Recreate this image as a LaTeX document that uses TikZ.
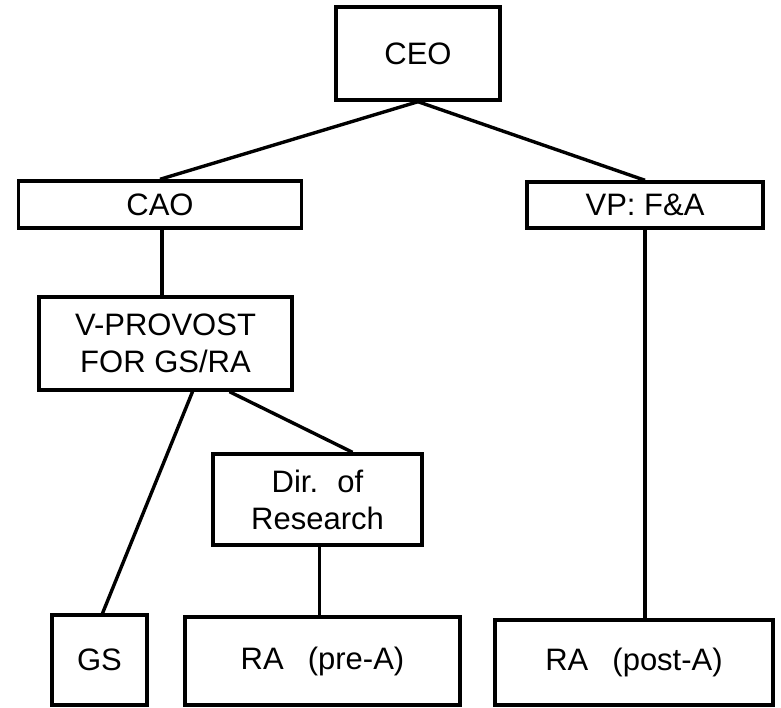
\documentclass[tikz,border=0pt]{standalone}
\usepackage{fontspec}
\setmainfont{Liberation Sans}
\usetikzlibrary{positioning}

\begin{document}
\begin{tikzpicture}[x=1pt, y=-1pt, line width=3.4pt,
	every box/.style={draw, rectangle, inner sep=0pt, align=center,
		font=\fontsize{31}{37}\selectfont},
	every link/.style={line width=3.4pt}]

	\useasboundingbox (0,0) rectangle (781,707);

	\foreach \n/\x/\y/\w/\h/\t in {
			ceo/418/53.5/164/93/CEO,
			cao/160/204.5/283/47/CAO,
			vpfa/645/205/236/46/VP: F\&A,
			vprov/165.5/343.5/253/93/{V-PROVOST\\FOR GS/RA},
			dir/317.5/499.5/209/91/{Dir.\hspace{0.25em} of\\Research},
			gs/99.5/660/95/90/GS,
			rapre/322.5/661/275/88/{RA\hspace{0.5em} (pre-A)},
			rapost/634/662.5/278/85/{RA\hspace{0.5em} (post-A)}}
		\node [every box, minimum width=\w pt, minimum height=\h pt] (\n) at (\x, \y) {\t};

	\draw [every link] (ceo.south) -- (cao.north);
	\draw [every link] (ceo.south) -- (vpfa.north);
	\draw [every link] ([xshift=2pt]cao.south) -- ([xshift=2pt]cao.south |- vprov.north);
	\draw [every link] ([xshift=27pt]vprov.south) -- ([xshift=3pt]gs.north);
	\draw [every link] ([xshift=64pt]vprov.south) -- ([xshift=35pt]dir.north);
	\draw [every link] ([xshift=2pt]dir.south) -- ([xshift=2pt]dir.south |- rapre.north);
	\draw [every link] (vpfa.south) -- (vpfa.south |- rapost.north);
\end{tikzpicture}
\end{document}
